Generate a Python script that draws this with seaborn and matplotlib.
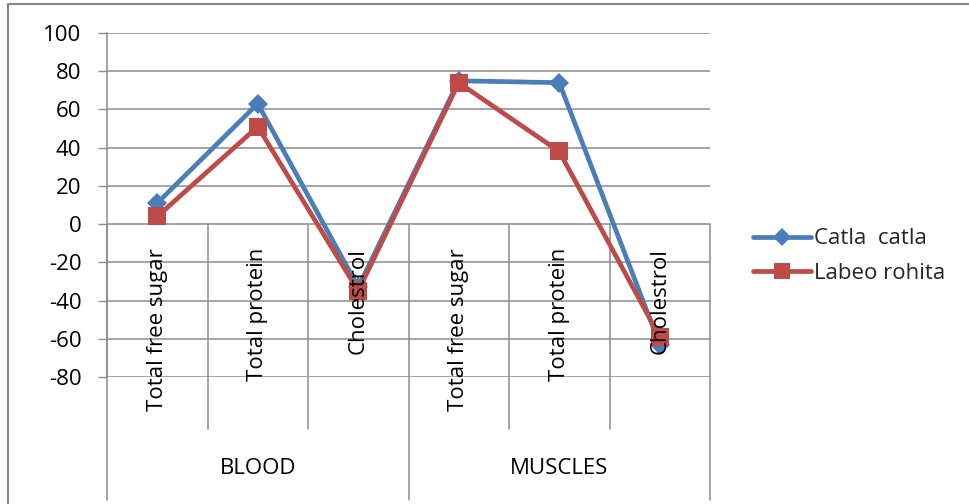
import matplotlib
matplotlib.use("Agg")
import matplotlib.pyplot as plt
import matplotlib.transforms as mtransforms
from matplotlib.lines import Line2D
from matplotlib.patches import Rectangle
import pandas as pd
import seaborn as sns

# Tissue groups and the parameters measured in each
groups = ["BLOOD", "MUSCLES"]
parameters = ["Total free sugar", "Total protein", "Cholestrol"]

# Percent change per species, in order: blood (3), muscles (3)
catla_catla = [11, 63, -33, 75, 74, -63]
labeo_rohita = [4, 51, -35, 74, 38, -59]

series_names = ["Catla  catla", "Labeo rohita"]
y_ticks = list(range(-80, 101, 20))

BLUE = "#4A7EBB"
RED = "#BE4B48"
GREY = "#8C8C8C"
FS = 16

sns.set_theme(style="white")
plt.rcParams["font.family"] = ["Open Sans", "DejaVu Sans"]

W, H, DPI = 969, 504, 100
fig = plt.figure(figsize=(W / DPI, H / DPI), dpi=DPI)

# Plot area in pixels: x 107..710, y 33 (top, 100) .. 377 (-80)
left_px, right_px, top_px, bot_px = 107, 710, 33, 377
ax = fig.add_axes([left_px / W, 1 - bot_px / H,
                   (right_px - left_px) / W, (bot_px - top_px) / H])

labels = [p for g in groups for p in parameters]
pos = list(range(len(labels)))
df = pd.DataFrame({
    "pos": pos * 2,
    "value": catla_catla + labeo_rohita,
    "series": [series_names[0]] * len(pos) + [series_names[1]] * len(pos),
})

styles = {
    series_names[0]: dict(color=BLUE, marker="D", markersize=10),
    series_names[1]: dict(color=RED, marker="s", markersize=13),
}
for name in series_names:
    st = styles[name]
    sns.lineplot(data=df[df["series"] == name], x="pos", y="value", ax=ax,
                 color=st["color"], marker=st["marker"], markersize=st["markersize"],
                 markeredgewidth=0, linewidth=3.4, sort=False, legend=False,
                 zorder=3)

ax.set_xlim(-0.5, len(labels) - 0.5)
ax.set_ylim(-80, 100)
ax.set_yticks(y_ticks)
ax.set_yticklabels([str(v) for v in y_ticks], fontsize=FS, color="black")
ax.set_xticks([])
ax.set_xlabel("")
ax.set_ylabel("")
ax.tick_params(axis="y", direction="out", length=6.5, width=1.0, color=GREY, pad=12, left=True)
ax.yaxis.grid(True, color=GREY, linewidth=1.1)
ax.set_axisbelow(True)
for s in ["top", "right", "bottom"]:
    ax.spines[s].set_visible(False)
ax.spines["left"].set_color(GREY)
ax.spines["left"].set_linewidth(1.1)

# Multi-level category axis below the zero line
blend = mtransforms.blended_transform_factory(ax.transData, ax.transAxes)
zero_frac = (0 - (-80)) / 180
sub_bottom = -(429 - bot_px) / (bot_px - top_px)
grp_bottom = -(500 - bot_px) / (bot_px - top_px)
n = len(parameters)
for b in range(len(labels) + 1):
    xb = b - 0.5
    yb = grp_bottom if b % n == 0 else sub_bottom
    ax.plot([xb, xb], [zero_frac, yb], transform=blend, color=GREY,
            lw=1.1, clip_on=False, zorder=1)

label_tr = mtransforms.offset_copy(ax.transData, fig=fig, y=-24, units="dots")
for p, lab in zip(pos, labels):
    ax.text(p, 0, lab, rotation=90, ha="center", va="top", fontsize=FS,
            color="black", transform=label_tr, zorder=5)

grp_y = -(468 - bot_px) / (bot_px - top_px)
for gi, g in enumerate(groups):
    ax.text(gi * n + (n - 1) / 2, grp_y, g, ha="center", va="center",
            fontsize=FS, color="black", transform=blend)

# Legend
handles = [Line2D([], [], color=styles[nm]["color"], marker=styles[nm]["marker"],
                  markersize=styles[nm]["markersize"] - 1, markeredgewidth=0,
                  linewidth=3.4) for nm in series_names]
fig.legend(handles, series_names, loc="center left",
           bbox_to_anchor=(742 / W, 1 - 256 / H), frameon=False,
           fontsize=FS, handlelength=2.6, handletextpad=0.15,
           labelspacing=0.6, borderpad=0)

# Chart frame
fig.add_artist(Rectangle((8 / W, -0.05), 1.2, 1 - 4 / H + 0.05,
                         transform=fig.transFigure, fill=False,
                         edgecolor="#868686", linewidth=1.5))

fig.savefig("out.png", dpi=DPI)
